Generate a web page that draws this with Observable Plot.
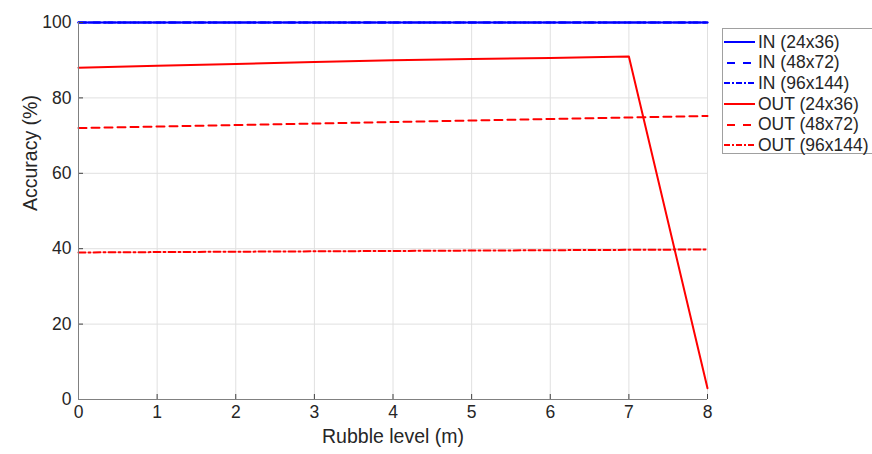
<!DOCTYPE html>
<html>
<head>
<meta charset="utf-8">
<script src="https://cdn.jsdelivr.net/npm/d3@7"></script>
<script src="https://cdn.jsdelivr.net/npm/@observablehq/plot@0.6"></script>
<style>
  html, body { margin: 0; padding: 0; background: #fff; overflow: hidden; }
  #wrap { position: relative; width: 872px; height: 454px; font-family: "Liberation Sans", Arial, sans-serif; }
  #legend { position: absolute; left: 722px; top: 28px; width: 170px; height: 126px; border: 1px solid #a0a0a0; background: #fff; box-sizing: border-box; padding-top: 3px; }
  .item { display: flex; align-items: center; height: 20.6px; font-size: 17.5px; color: #262626; white-space: nowrap; }
  .item svg { margin-left: 1px; margin-right: 3px; flex: none; }
</style>
</head>
<body>
<div id="wrap"></div>
<script>
const rubble = [0, 1, 2, 3, 4, 5, 6, 7, 8];
const in24 = [100, 100, 100, 100, 100, 100, 100, 100, 100];
const in48 = [100, 100, 100, 100, 100, 100, 100, 100, 100];
const in96 = [100, 100, 100, 100, 100, 100, 100, 100, 100];
const out24 = [88, 88.5, 89, 89.5, 90, 90.3, 90.6, 91, 3];
const out48 = [72, 72.4, 72.8, 73.2, 73.6, 74.0, 74.4, 74.8, 75.2];
const out96 = [39, 39.1, 39.2, 39.3, 39.4, 39.5, 39.6, 39.7, 39.8];
const xTicks = [0, 1, 2, 3, 4, 5, 6, 7, 8];
const yTicks = [0, 20, 40, 60, 80, 100];

const seriesList = [
  {name: "IN (24x36)", values: in24, color: "#0000ff", dash: null, legendDash: null},
  {name: "IN (48x72)", values: in48, color: "#0000ff", dash: "8,5", legendDash: "8,8"},
  {name: "IN (96x144)", values: in96, color: "#0000ff", dash: "7,3,2,3", legendDash: "6,2,2,2"},
  {name: "OUT (24x36)", values: out24, color: "#ff0000", dash: null, legendDash: null},
  {name: "OUT (48x72)", values: out48, color: "#ff0000", dash: "8,5", legendDash: "8,8"},
  {name: "OUT (96x144)", values: out96, color: "#ff0000", dash: "7,3,2,3", legendDash: "6,2,2,2"}
];

const lineMarks = seriesList.map(s =>
  Plot.line(rubble.map((x, i) => ({x, y: s.values[i]})), {
    x: "x", y: "y", stroke: s.color, strokeWidth: 2,
    strokeDasharray: s.dash ?? undefined
  })
);

const chart = Plot.plot({
  width: 872,
  height: 454,
  marginLeft: 78,
  marginRight: 165,
  marginTop: 22,
  marginBottom: 55,
  style: {fontFamily: "'Liberation Sans', Arial, sans-serif", fontSize: "17.5px", color: "#262626", background: "#fff"},
  x: {domain: [0, 8]},
  y: {domain: [0, 100]},
  marks: [
    Plot.gridX(xTicks, {stroke: "#e0e0e0", strokeOpacity: 1}),
    Plot.gridY(yTicks, {stroke: "#e0e0e0", strokeOpacity: 1}),
    ...lineMarks,
    Plot.axisX(xTicks, {tickSize: 0, tickPadding: 6, fontSize: 17.5, label: null}),
    Plot.axisX(xTicks, {tickSize: -5, text: null, stroke: "#404040", label: null}),
    Plot.axisY(yTicks, {tickSize: 0, tickPadding: 7, fontSize: 17.5, label: null}),
    Plot.axisY(yTicks, {tickSize: -5, text: null, stroke: "#404040", label: null}),
    Plot.ruleX([0], {stroke: "#808080"}),
    Plot.ruleY([0], {stroke: "#808080"}),
    Plot.text(["Rubble level (m)"], {frameAnchor: "bottom", dy: 43, fontSize: 19.5, fill: "#262626"}),
    Plot.text(["Accuracy (%)"], {frameAnchor: "left", dx: -48, rotate: -90, fontSize: 19.5, fill: "#262626"})
  ]
});

const wrap = document.getElementById("wrap");
wrap.appendChild(chart);

const legend = document.createElement("div");
legend.id = "legend";
for (const s of seriesList) {
  const item = document.createElement("div");
  item.className = "item";
  const ns = "http://www.w3.org/2000/svg";
  const svg = document.createElementNS(ns, "svg");
  svg.setAttribute("width", "31");
  svg.setAttribute("height", "10");
  const ln = document.createElementNS(ns, "line");
  ln.setAttribute("x1", "0"); ln.setAttribute("x2", "31");
  ln.setAttribute("y1", "5"); ln.setAttribute("y2", "5");
  ln.setAttribute("stroke", s.color);
  ln.setAttribute("stroke-width", "2");
  if (s.legendDash) {
    ln.setAttribute("stroke-dasharray", s.legendDash);
    if (s.legendDash === "8,8") ln.setAttribute("stroke-dashoffset", "-3");
  }
  svg.appendChild(ln);
  item.appendChild(svg);
  const span = document.createElement("span");
  span.textContent = s.name;
  item.appendChild(span);
  legend.appendChild(item);
}
wrap.appendChild(legend);
</script>
</body>
</html>
